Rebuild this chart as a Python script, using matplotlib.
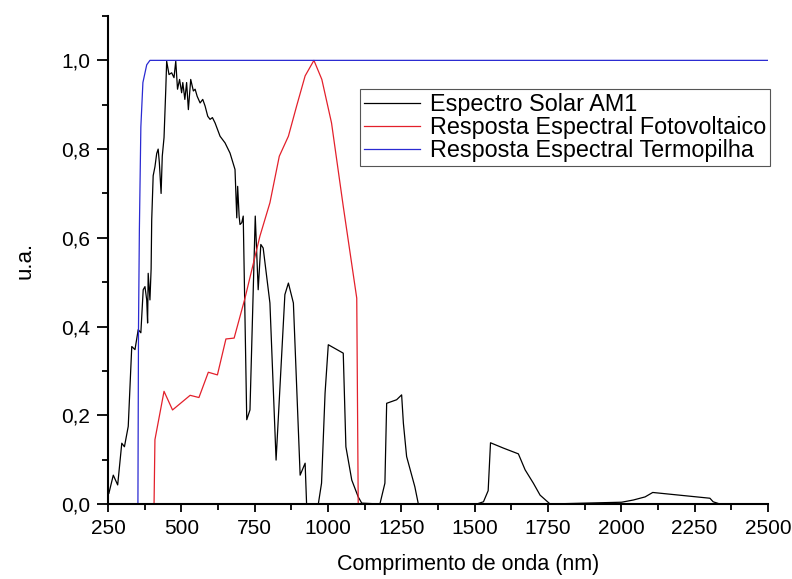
import matplotlib
matplotlib.use("Agg")
import matplotlib.pyplot as plt
from matplotlib.ticker import MultipleLocator, FuncFormatter

# ---- data ----
solar_x = [253, 268, 283, 297, 306, 319, 331, 342, 353, 362, 370, 376, 382, 385, 387, 393, 397, 399,
           404, 410, 416, 421, 425, 431, 435, 441, 447, 450, 458, 467, 475, 481, 487, 494, 501, 505,
           512, 518, 524, 532, 541, 547, 554, 564, 573, 581, 590, 598, 606, 615, 632, 649, 666, 683,
           689, 692, 697, 700, 706, 711, 723, 734, 752, 762, 771, 779, 802, 823, 853, 865, 882, 905,
           922, 927, 967, 978, 990, 1001, 1052, 1061, 1081, 1103, 1115, 1177, 1194, 1200, 1234, 1251,
           1257, 1268, 1296, 1308, 1507, 1530, 1546, 1554, 1598, 1649, 1672, 1700, 1723, 1757,
           2001, 2041, 2081, 2107, 2302, 2313, 2336]
solar_y = [0.024, 0.065, 0.043, 0.137, 0.129, 0.175, 0.355, 0.348, 0.393, 0.386, 0.483, 0.49, 0.46,
           0.408, 0.52, 0.46, 0.53, 0.64, 0.74, 0.76, 0.79, 0.80, 0.77, 0.70, 0.784, 0.826, 0.935,
           0.998, 0.968, 0.972, 0.961, 0.998, 0.935, 0.957, 0.927, 0.95, 0.912, 0.95, 0.889, 0.957,
           0.931, 0.935, 0.919, 0.904, 0.912, 0.897, 0.874, 0.867, 0.871, 0.859, 0.829, 0.814, 0.791,
           0.754, 0.645, 0.716, 0.649, 0.630, 0.634, 0.649, 0.19, 0.212, 0.649, 0.483, 0.585, 0.577,
           0.453, 0.099, 0.472, 0.498, 0.453, 0.065, 0.092, 0.0, 0.0, 0.047, 0.25, 0.359, 0.34, 0.129,
           0.054, 0.016, 0.002, 0.0, 0.047, 0.227, 0.235, 0.246, 0.182, 0.107, 0.039, 0.0, 0.0, 0.005,
           0.03, 0.138, 0.126, 0.113, 0.077, 0.047, 0.02, 0.0, 0.004, 0.009, 0.016, 0.026, 0.013,
           0.005, 0.0]

pv_x = [407, 410, 441, 470, 530, 560, 592, 623, 652, 680, 717, 768, 802, 834, 865, 893, 922, 952,
        979, 1012, 1052, 1098, 1103]
pv_y = [0.0, 0.145, 0.254, 0.212, 0.245, 0.24, 0.297, 0.291, 0.372, 0.374, 0.464, 0.604, 0.679,
        0.784, 0.829, 0.897, 0.965, 1.0, 0.957, 0.859, 0.671, 0.464, 0.0]

tp_x = [352, 354, 357, 362, 369, 382, 393, 2500]
tp_y = [0.0, 0.4, 0.62, 0.85, 0.95, 0.99, 1.0, 1.0]

labels = ["Espectro Solar AM1", "Resposta Espectral Fotovoltaico", "Resposta Espectral Termopilha"]
x_ticks = [250, 500, 750, 1000, 1250, 1500, 1750, 2000, 2250, 2500]
y_ticks = [0.0, 0.2, 0.4, 0.6, 0.8, 1.0]

plt.rcParams['font.family'] = ['Liberation Sans', 'DejaVu Sans']

fig = plt.figure(figsize=(7.92, 5.79), dpi=100)
ax = fig.add_axes([108/792, 75/579, 660/792, 488/579])

ax.plot(solar_x, solar_y, color='black', lw=0.9, label=labels[0])
ax.plot(pv_x, pv_y, color='#e3202b', lw=0.9, label=labels[1])
ax.plot(tp_x, tp_y, color='#2a2ad2', lw=0.9, label=labels[2])

ax.set_xlim(250, 2500)
ax.set_ylim(0, 1.1)
ax.set_xticks(x_ticks)
ax.set_yticks(y_ticks)
ax.xaxis.set_minor_locator(MultipleLocator(125))
ax.yaxis.set_minor_locator(MultipleLocator(0.1))
ax.yaxis.set_major_formatter(FuncFormatter(lambda v, p: f"{v:.1f}".replace('.', ',')))

for s in ['top', 'right']:
    ax.spines[s].set_visible(False)
for s in ['left', 'bottom']:
    ax.spines[s].set_linewidth(1.5)

ax.tick_params(axis='both', which='major', direction='out', width=1.3, labelsize=15)
ax.tick_params(axis='x', which='major', length=6, pad=5)
ax.tick_params(axis='y', which='major', length=8, pad=5)
ax.tick_params(axis='both', which='minor', direction='out', width=1.3, length=4)

ax.set_xlabel("Comprimento de onda (nm)", fontsize=15.5)
ax.xaxis.set_label_coords(0.545, -0.102)
ax.set_ylabel("u.a.", fontsize=16, labelpad=18)

leg = ax.legend(loc='upper left', bbox_to_anchor=(0.382, 0.851), fontsize=16.8,
                frameon=True, fancybox=False, edgecolor='#555555', framealpha=1,
                handlelength=2.4, handletextpad=0.4, labelspacing=0.0,
                borderpad=0.18, borderaxespad=0)
leg.get_frame().set_linewidth(0.8)

fig.savefig("out.png", dpi=100)
